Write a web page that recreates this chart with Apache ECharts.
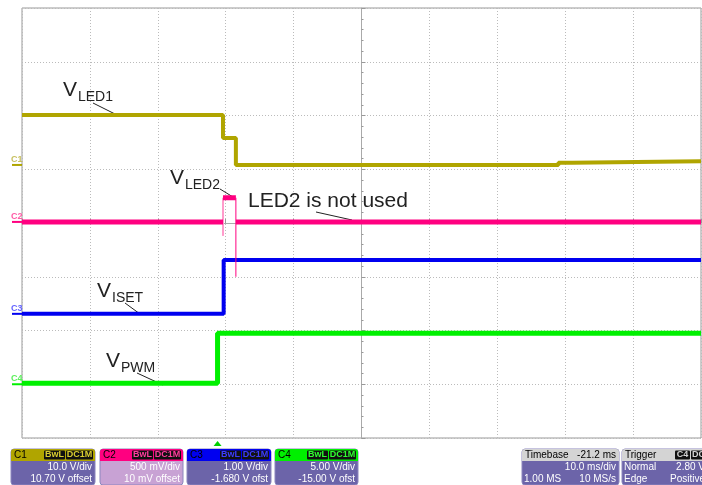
<!DOCTYPE html>
<html>
<head>
<meta charset="utf-8">
<script src="https://cdn.jsdelivr.net/npm/echarts@6/dist/echarts.min.js"></script>
<style>
  html, body { margin: 0; padding: 0; background: #fff; }
  #chart { width: 702px; height: 485px; }
</style>
</head>
<body>
<div id="chart"></div>
<script>
  // screen units: divisions from the centre of the scope screen
  const xRange = [-5, 5]
  const yRange = [-4, 4]

  // traces, [div, div]
  const c1Trace = [[-5, 2.01], [-2.04, 2.01], [-2.04, 1.58], [-1.85, 1.58], [-1.85, 1.08], [2.9, 1.08], [2.9, 1.12], [3.1, 1.12], [3.1, 1.15], [5, 1.15]]
  const c2Trace = [[-5, 0.02], [-2.04, 0.02], [-2.04, '-'], [-2.04, 0.47], [-1.85, 0.47], [-1.85, '-'], [-1.85, 0.02], [5, 0.02]]
  const c2RiseEdge = [[-2.04, -0.24], [-2.04, 0.47]]
  const c2FallEdge = [[-1.85, 0.47], [-1.85, -1.0]]
  const c3Trace = [[-5, -1.69], [-2.03, -1.69], [-2.03, -0.69], [5, -0.69]]
  const c4Trace = [[-5, -2.98], [-2.12, -2.98], [-2.12, -2.05], [5, -2.05]]

  // channel ground markers and trigger position
  const channels = ['C1', 'C2', 'C3', 'C4']
  const markerLevels = [1.08, 0.02, -1.69, -3.0]
  const triggerPos = -2.12

  const colors = ['#B0A500', '#FF0080', '#0000F0', '#00F000']
  const markerColors = ['#C8C060', '#FF5AA5', '#6464FF', '#5CF05C']

  const chart = echarts.init(document.getElementById('chart'))

  function trace(data, color, width, z) {
    return {
      type: 'line',
      data: data,
      showSymbol: false,
      symbol: 'none',
      silent: true,
      animation: false,
      z: z || 2,
      lineStyle: { color: color, width: width }
    }
  }

  chart.setOption({
    animation: false,
    grid: {
      left: 22,
      top: 8,
      width: 679,
      height: 430,
      show: true,
      borderColor: '#999',
      borderWidth: 1,
      backgroundColor: '#fff'
    },
    xAxis: {
      type: 'value',
      min: xRange[0],
      max: xRange[1],
      interval: 1,
      axisLine: { show: true, onZero: true, lineStyle: { color: '#aaa', width: 1 } },
      axisTick: { show: true, inside: true, length: 4, lineStyle: { color: '#999' } },
      minorTick: { show: true, splitNumber: 5, length: 2, lineStyle: { color: '#999' } },
      axisLabel: { show: false },
      splitLine: { show: true, lineStyle: { color: '#bbb', type: [1, 2] } }
    },
    yAxis: {
      type: 'value',
      min: yRange[0],
      max: yRange[1],
      interval: 1,
      axisLine: { show: true, onZero: true, lineStyle: { color: '#aaa', width: 1 } },
      axisTick: { show: true, inside: true, length: 4, lineStyle: { color: '#999' } },
      minorTick: { show: true, splitNumber: 5, length: 2, lineStyle: { color: '#999' } },
      axisLabel: { show: false },
      splitLine: { show: true, lineStyle: { color: '#bbb', type: [1, 2] } }
    },
    series: [
      trace(c4Trace, colors[3], 5),
      trace(c3Trace, colors[2], 4),
      trace(c2RiseEdge, '#FF9CCB', 2),
      trace(c2FallEdge, colors[1], 1),
      trace(c2Trace, colors[1], 5),
      trace(c1Trace, colors[0], 4)
    ]
  })

  const g = []
  const font = '"Liberation Sans", Arial, sans-serif'

  // channel markers on the left edge
  channels.forEach(function (name, i) {
    const p = chart.convertToPixel({ gridIndex: 0 }, [xRange[0], markerLevels[i]])
    g.push({
      type: 'line', silent: true,
      shape: { x1: 12, y1: p[1], x2: p[0], y2: p[1] },
      style: { stroke: colors[i], lineWidth: 2 }
    })
    g.push({
      type: 'text', silent: true, x: 11, y: p[1] - 1,
      style: { text: name, font: 'bold 9px ' + font, fill: markerColors[i], verticalAlign: 'bottom' }
    })
  })

  // trigger marker under the screen
  const tp = chart.convertToPixel({ gridIndex: 0 }, [triggerPos, yRange[0]])
  g.push({
    type: 'polygon', silent: true,
    shape: { points: [[tp[0] - 4, tp[1] + 8], [tp[0] + 4, tp[1] + 8], [tp[0], tp[1] + 3]] },
    style: { fill: '#00D000' }
  })

  // annotations, y is the text baseline
  function label(main, sub, x, y) {
    g.push({ type: 'text', silent: true, x: x, y: y - 7,
      style: { text: main, font: '21px ' + font, fill: '#222', verticalAlign: 'middle' } })
    if (sub) {
      g.push({ type: 'text', silent: true, x: x + 15, y: y + 5 - 5,
        style: { text: sub, font: '14px ' + font, fill: '#222', verticalAlign: 'middle' } })
    }
  }
  function leader(x1, y1, x2, y2) {
    g.push({ type: 'line', silent: true, shape: { x1: x1, y1: y1, x2: x2, y2: y2 },
      style: { stroke: '#222', lineWidth: 1 } })
  }
  label('V', 'LED1', 63, 97)
  leader(93, 103, 115, 114)
  label('V', 'LED2', 170, 185)
  leader(220, 189, 233, 197)
  label('LED2 is not used', null, 248, 208)
  leader(316, 212, 352, 220)
  label('V', 'ISET', 97, 298)
  leader(125, 303, 140, 314)
  label('V', 'PWM', 106, 368)
  leader(137, 373, 163, 385)

  // info boxes along the bottom
  const bodyColor = '#6C64A9'
  function box(x, w, headColor, headLeft, headRight, badges, badgeColor, rows, body) {
    const top = 449
    g.push({ type: 'rect', silent: true, shape: { x: x, y: top, width: w, height: 36, r: 3 },
      style: { fill: body || bodyColor, stroke: '#8C86BE', lineWidth: 1 } })
    g.push({ type: 'rect', silent: true, shape: { x: x, y: top, width: w, height: 12, r: [3, 3, 0, 0] },
      style: { fill: headColor } })
    g.push({ type: 'text', silent: true, x: x + 3, y: top + 6,
      style: { text: headLeft, font: '10px ' + font, fill: '#000', verticalAlign: 'middle' } })
    if (headRight) {
      g.push({ type: 'text', silent: true, x: x + w - 3, y: top + 6,
        style: { text: headRight, font: '10px ' + font, fill: '#000', align: 'right', verticalAlign: 'middle' } })
    }
    let bx = x + w - 2
    for (let i = badges.length - 1; i >= 0; i--) {
      const bw = badges[i].length * 6 + 3
      bx -= bw
      g.push({ type: 'rect', silent: true, shape: { x: bx, y: top + 1.5, width: bw, height: 9, r: 1 },
        style: { fill: '#111' } })
      g.push({ type: 'text', silent: true, x: bx + bw / 2, y: top + 6,
        style: { text: badges[i], font: 'bold 9px ' + font, fill: badgeColor, align: 'center', verticalAlign: 'middle' } })
      bx -= 1
    }
    rows.forEach(function (r, i) {
      const y = top + 18 + i * 12
      if (r[0]) {
        g.push({ type: 'text', silent: true, x: x + 2, y: y,
          style: { text: r[0], font: '10px ' + font, fill: '#fff', verticalAlign: 'middle' } })
      }
      if (r[1]) {
        g.push({ type: 'text', silent: true, x: x + w - 3, y: y,
          style: { text: r[1], font: '10px ' + font, fill: '#fff', align: 'right', verticalAlign: 'middle' } })
      }
    })
  }
  box(11, 84, colors[0], 'C1', null, ['BwL', 'DC1M'], '#D8CC30', [[null, '10.0 V/div'], [null, '10.70 V offset']])
  box(100, 83, colors[1], 'C2', null, ['BwL', 'DC1M'], '#FF3C9C', [[null, '500 mV/div'], [null, '10 mV offset']], '#C8A2D4')
  box(187, 84, colors[2], 'C3', null, ['BwL', 'DC1M'], '#3C3CFF', [[null, '1.00 V/div'], [null, '-1.680 V ofst']])
  box(275, 83, colors[3], 'C4', null, ['BwL', 'DC1M'], '#30FF30', [[null, '5.00 V/div'], [null, '-15.00 V ofst']])
  box(522, 97, '#D4D4D4', 'Timebase', '-21.2 ms', [], '#000', [[null, '10.0 ms/div'], ['1.00 MS', '10 MS/s']])
  box(622, 86, '#D4D4D4', 'Trigger', null, ['C4', 'DC'], '#D4D4D4', [['Normal', '2.80 V'], ['Edge', 'Positive']])

  chart.setOption({ graphic: g })
</script>
</body>
</html>
